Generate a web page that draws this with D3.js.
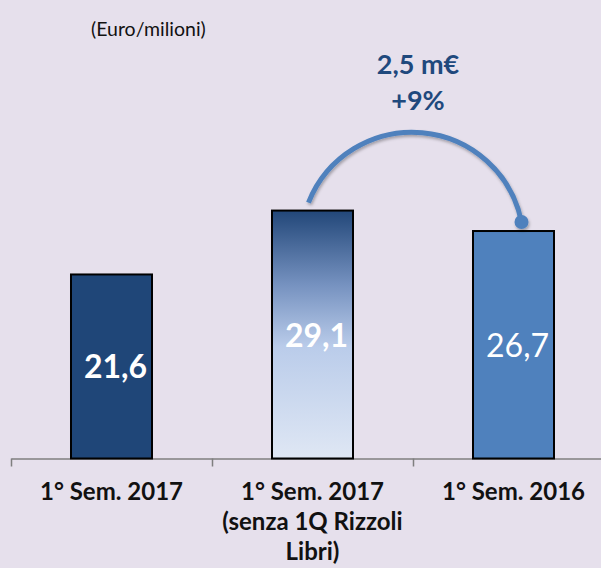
<!DOCTYPE html>
<html>
<head>
<meta charset="utf-8">
<script src="https://cdn.jsdelivr.net/npm/d3@7"></script>
<style>
  html, body { margin: 0; padding: 0; background: #E6E0EC; }
  svg { display: block; }
  text { font-family: Lato, "Open Sans", sans-serif; }
</style>
</head>
<body>
<div id="chart"></div>
<script>
var categories = ["1° Sem. 2017", "1° Sem. 2017 (senza 1Q Rizzoli Libri)", "1° Sem. 2016"],
    labelLines = [["1° Sem. 2017"], ["1° Sem. 2017", "(senza 1Q Rizzoli", "Libri)"], ["1° Sem. 2016"]],
    values = [21.6, 29.1, 26.7],
    valueLabels = ["21,6", "29,1", "26,7"],
    unitLabel = "(Euro/milioni)",
    deltaLabels = ["2,5 m€", "+9%"];

var width = 601, height = 568,
    baseline = 458.5;

var svg = d3.select("#chart").append("svg")
  .attr("width", width)
  .attr("height", height);

svg.append("rect")
  .attr("width", width)
  .attr("height", height)
  .attr("fill", "#E6E0EC");

var defs = svg.append("defs");

var grad = defs.append("linearGradient")
  .attr("id", "fadeBar")
  .attr("x1", 0).attr("y1", 0).attr("x2", 0).attr("y2", 1);
grad.append("stop").attr("offset", "0%").attr("stop-color", "#224779");
grad.append("stop").attr("offset", "30%").attr("stop-color", "#7692C0");
grad.append("stop").attr("offset", "55%").attr("stop-color", "#BACCEA");
grad.append("stop").attr("offset", "100%").attr("stop-color", "#DFE7F4");

var shadow = defs.append("filter")
  .attr("id", "shadow")
  .attr("x", "-20%").attr("y", "-20%").attr("width", "140%").attr("height", "140%");
shadow.append("feDropShadow")
  .attr("dx", 1).attr("dy", 2)
  .attr("stdDeviation", 1.5)
  .attr("flood-color", "#000")
  .attr("flood-opacity", 0.3);

var x = d3.scaleBand()
  .domain(categories)
  .range([11, 614])
  .paddingInner(0.597)
  .paddingOuter(0.2985);

var y = d3.scaleLinear()
  .domain([0, 35])
  .range([baseline, baseline - 35 * 8.52]);

var fills = ["#1F4678", "url(#fadeBar)", "#4F81BD"];

// axis with ticks at the category boundaries
var edge = d3.scaleLinear()
  .domain([0, categories.length])
  .range([11, 614]);

var axis = svg.append("g")
  .attr("transform", "translate(0," + baseline + ")")
  .call(d3.axisBottom(edge)
    .tickValues(d3.range(0, categories.length + 1))
    .tickSizeInner(8)
    .tickSizeOuter(0)
    .tickFormat(""));
axis.select(".domain").attr("stroke", "#7F7F7F").attr("stroke-width", 1.5);
axis.selectAll(".tick line").attr("stroke", "#7F7F7F").attr("stroke-width", 1.5);

svg.selectAll(".bar")
  .data(values)
  .enter().append("rect")
  .attr("class", "bar")
  .attr("x", function(d, i) { return x(categories[i]); })
  .attr("y", function(d) { return y(d); })
  .attr("width", x.bandwidth())
  .attr("height", function(d) { return baseline - y(d); })
  .attr("fill", function(d, i) { return fills[i]; })
  .attr("stroke", "#000")
  .attr("stroke-width", 2);

svg.selectAll(".val")
  .data(values)
  .enter().append("text")
  .attr("class", "val")
  .attr("x", function(d, i) { return x(categories[i]) + x.bandwidth() / 2 + 4; })
  .attr("y", function(d) { return (y(d) + baseline) / 2 + 12; })
  .attr("text-anchor", "middle")
  .attr("fill", "#fff")
  .style("font-size", "32px")
  .style("font-weight", function(d, i) { return i == 2 ? "normal" : "bold"; })
  .text(function(d, i) { return valueLabels[i]; });

// category labels
var cats = svg.selectAll(".cat")
  .data(labelLines)
  .enter().append("text")
  .attr("class", "cat")
  .attr("text-anchor", "middle")
  .attr("fill", "#111")
  .style("font-size", "24px")
  .style("font-weight", "bold");

cats.selectAll("tspan")
  .data(function(d, i) { return d.map(function(t) { return {t: t, i: i}; }); })
  .enter().append("tspan")
  .attr("x", function(d) { return x(categories[d.i]) + x.bandwidth() / 2; })
  .attr("y", function(d, j) { return 500 + j * 30; })
  .text(function(d) { return d.t; });

svg.append("text")
  .attr("x", 91)
  .attr("y", 36)
  .attr("fill", "#111")
  .style("font-size", "19.5px")
  .text(unitLabel);

// arc from bar 2 to bar 3
var c2 = x(categories[1]) + x.bandwidth() / 2,
    c3 = x(categories[2]) + x.bandwidth() / 2,
    start = [c2 - 4, y(values[1]) - 8],
    end = [c3 + 8, y(values[2]) - 9];

var arcG = svg.append("g").attr("filter", "url(#shadow)");
arcG.append("path")
  .attr("d", "M" + start[0] + "," + start[1] + " A111.5,111.5 0 0 1 " + end[0] + "," + end[1])
  .attr("fill", "none")
  .attr("stroke", "#4F81BD")
  .attr("stroke-width", 5);
arcG.append("circle")
  .attr("cx", end[0])
  .attr("cy", end[1])
  .attr("r", 7)
  .attr("fill", "#4F81BD");

svg.selectAll(".delta")
  .data(deltaLabels)
  .enter().append("text")
  .attr("class", "delta")
  .attr("x", 418)
  .attr("y", function(d, i) { return 74 + i * 36; })
  .attr("text-anchor", "middle")
  .attr("fill", "#1F497D")
  .style("font-size", "27px")
  .style("font-weight", "bold")
  .text(function(d) { return d; });
</script>
</body>
</html>
